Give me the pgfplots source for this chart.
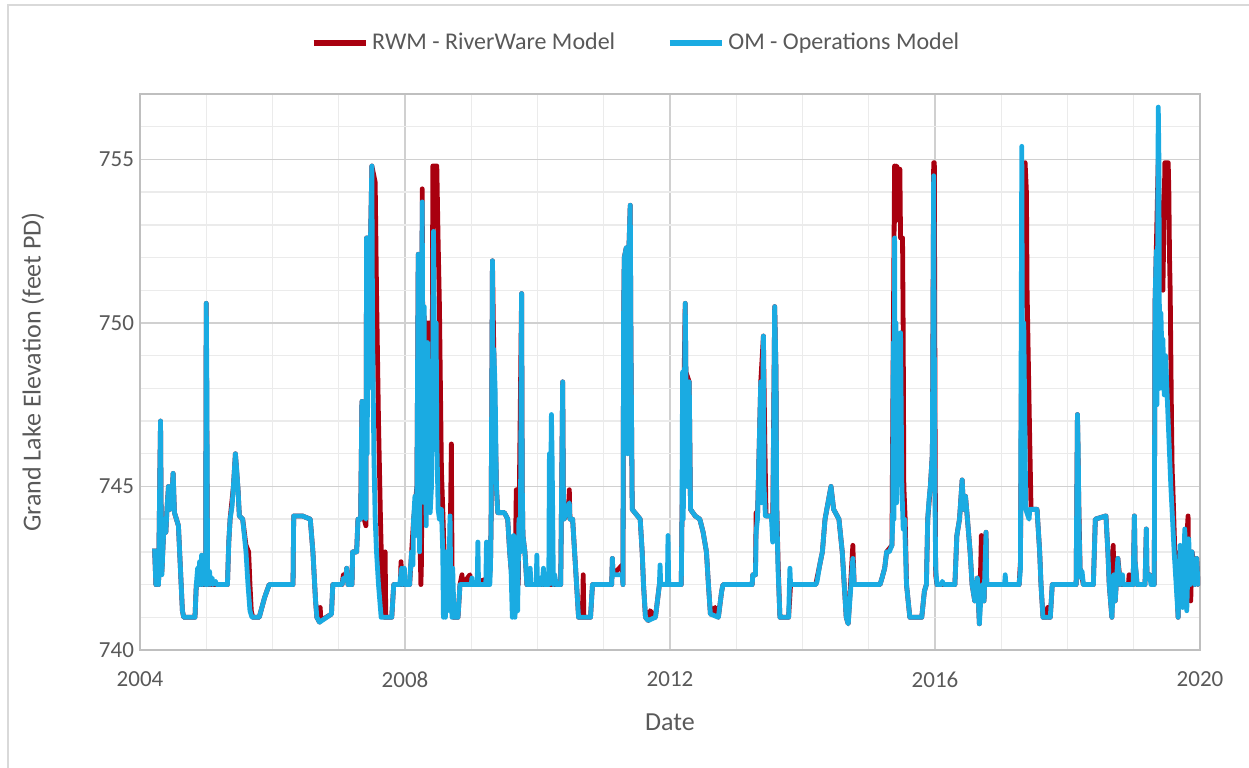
\documentclass[border=0pt]{standalone}
\usepackage{fontspec}
\setmainfont{Carlito}
\usepackage{pgfplots}
\pgfplotsset{compat=1.18}
\definecolor{rwm}{HTML}{A9000F}
\definecolor{om}{HTML}{1AABE2}
\definecolor{gridmaj}{HTML}{D0D0D0}
\definecolor{gridmin}{HTML}{EBEBEB}
\definecolor{axisgray}{HTML}{BFBFBF}
\definecolor{textgray}{HTML}{595959}
\definecolor{framegray}{HTML}{D9D9D9}
\begin{document}
\begin{tikzpicture}
\useasboundingbox (-70pt,-58.5pt) rectangle (554.5pt,325pt);
\draw[framegray, line width=1pt] (-66pt,-60pt) -- (-66pt,322.5pt) -- (556pt,322.5pt);
\begin{axis}[
  scale only axis, width=530pt, height=278pt,
  xmin=2004, xmax=2020, ymin=740, ymax=757,
  xtick={2004,2008,2012,2016,2020},
  minor xtick={2005,2006,2007,2009,2010,2011,2013,2014,2015,2017,2018,2019},
  ytick={740,745,750,755},
  minor ytick={741,742,743,744,746,747,748,749,751,752,753,754,756},
  grid=both,
  major grid style={draw=gridmaj, line width=0.7pt},
  minor grid style={draw=gridmin, line width=0.7pt},
  axis line style={draw=axisgray, line width=0.9pt},
  tick style={draw=none},
  /pgf/number format/assume math mode=true,
  ticklabel style={font=\fontsize{11.5}{13}\selectfont, text=textgray},
  xticklabel style={/pgf/number format/1000 sep={}, yshift=-7.5pt},
  yticklabel style={xshift=0.5pt},
  xlabel={Date}, ylabel={Grand Lake Elevation (feet PD)},
  label style={font=\fontsize{13}{15}\selectfont, text=textgray},
  xlabel style={at={(axis description cs:0.5,-0.1295)}, anchor=center},
  ylabel style={at={(axis description cs:-0.101,0.5)}, anchor=center},
  legend columns=2,
  legend style={at={(axis description cs:0.469,1)}, anchor=center, yshift=25.5pt,
    draw=none, fill=none, font=\fontsize{12}{14}\selectfont, text=textgray,
    /tikz/every even column/.append style={column sep=24pt}},
  legend image code/.code={\draw[#1, line width=2.6pt] (0pt,0pt) -- (26pt,0pt);},
  every axis plot/.append style={line width=2.4pt, line join=round, no markers},
]
\addplot[rwm] table[row sep=\\] {
x y\\
2004.22 743.1\\ 2004.24 742.0\\ 2004.26 742.6\\ 2004.28 742.0\\ 2004.30 745.5\\ 2004.31 747.0\\
2004.32 744.0\\ 2004.33 742.4\\ 2004.35 743.3\\ 2004.37 744.0\\ 2004.39 743.6\\ 2004.41 744.4\\
2004.43 745.0\\ 2004.45 744.3\\ 2004.48 744.6\\ 2004.50 745.4\\ 2004.52 744.2\\ 2004.55 744.0\\
2004.58 743.8\\ 2004.61 742.5\\ 2004.64 741.2\\ 2004.66 741.0\\ 2004.83 741.0\\ 2004.85 742.0\\
2004.99 742.0\\ 2005.00 750.6\\ 2005.02 742.0\\ 2005.32 742.0\\ 2005.34 743.3\\ 2005.36 744.0\\
2005.41 745.0\\ 2005.44 746.0\\ 2005.48 744.9\\ 2005.50 744.1\\ 2005.55 744.0\\ 2005.60 743.2\\
2005.64 743.0\\ 2005.66 742.0\\ 2005.68 741.2\\ 2005.70 741.0\\ 2005.80 741.0\\ 2005.88 741.6\\
2005.95 742.0\\ 2006.31 742.0\\ 2006.32 744.1\\ 2006.45 744.1\\ 2006.57 744.0\\ 2006.61 743.0\\
2006.65 741.5\\ 2006.67 741.0\\ 2006.71 740.85\\ 2006.72 741.3\\ 2006.73 740.9\\ 2006.89 741.1\\
2006.91 742.0\\ 2007.05 742.0\\ 2007.07 742.3\\ 2007.11 742.3\\ 2007.12 742.5\\ 2007.14 742.0\\
2007.20 742.0\\ 2007.21 743.0\\ 2007.27 743.0\\ 2007.29 744.0\\ 2007.33 744.0\\ 2007.35 747.6\\
2007.36 744.2\\ 2007.41 743.8\\ 2007.42 752.6\\ 2007.48 752.6\\ 2007.50 754.8\\ 2007.55 754.3\\
2007.57 751.0\\ 2007.60 747.0\\ 2007.63 744.0\\ 2007.66 741.5\\ 2007.69 741.0\\ 2007.70 743.0\\
2007.71 741.0\\ 2007.80 741.0\\ 2007.83 742.0\\ 2007.93 742.0\\ 2007.94 742.7\\ 2007.95 742.0\\
2008.07 742.0\\ 2008.10 743.0\\ 2008.13 744.0\\ 2008.18 745.0\\ 2008.20 752.1\\ 2008.22 744.0\\
2008.24 742.0\\ 2008.25 742.8\\ 2008.26 754.1\\ 2008.27 748.0\\ 2008.29 750.2\\ 2008.31 748.0\\
2008.32 750.0\\ 2008.38 750.0\\ 2008.39 746.5\\ 2008.41 748.0\\ 2008.42 754.8\\ 2008.48 754.8\\
2008.50 752.5\\ 2008.52 750.5\\ 2008.55 745.5\\ 2008.57 744.3\\ 2008.59 743.0\\ 2008.63 742.2\\
2008.68 743.0\\ 2008.70 746.3\\ 2008.71 742.5\\ 2008.73 741.0\\ 2008.80 741.0\\ 2008.83 742.0\\
2008.86 742.3\\ 2008.87 742.0\\ 2008.98 742.3\\ 2008.99 742.0\\ 2009.27 742.2\\ 2009.29 742.5\\
2009.30 744.0\\ 2009.32 751.9\\ 2009.34 749.2\\ 2009.38 745.0\\ 2009.40 744.2\\ 2009.50 744.2\\
2009.55 744.0\\ 2009.58 743.0\\ 2009.60 742.5\\ 2009.66 742.0\\ 2009.68 744.9\\ 2009.70 744.5\\
2009.71 742.0\\ 2009.76 750.9\\ 2009.77 745.0\\ 2009.78 743.5\\ 2009.81 743.0\\ 2009.84 742.0\\
2010.35 742.0\\ 2010.36 744.0\\ 2010.38 748.2\\ 2010.39 745.0\\ 2010.40 744.0\\ 2010.47 744.3\\
2010.48 744.9\\ 2010.49 744.0\\ 2010.53 744.0\\ 2010.56 743.0\\ 2010.59 742.0\\ 2010.62 741.0\\
2010.68 741.0\\ 2010.69 742.3\\ 2010.70 741.0\\ 2010.80 741.0\\ 2010.83 742.0\\ 2011.12 742.0\\
2011.13 742.8\\ 2011.14 742.3\\ 2011.28 742.6\\ 2011.29 742.0\\ 2011.30 750.3\\ 2011.31 752.0\\
2011.34 752.3\\ 2011.38 752.3\\ 2011.40 753.6\\ 2011.41 749.5\\ 2011.43 744.3\\ 2011.55 744.0\\
2011.58 743.0\\ 2011.60 742.0\\ 2011.63 741.0\\ 2011.67 740.9\\ 2011.70 741.2\\ 2011.78 741.0\\
2011.84 742.0\\ 2012.17 742.0\\ 2012.18 744.0\\ 2012.23 750.6\\ 2012.24 748.5\\ 2012.29 748.2\\
2012.31 744.3\\ 2012.38 744.1\\ 2012.45 744.0\\ 2012.50 743.6\\ 2012.55 743.0\\ 2012.58 742.0\\
2012.61 741.1\\ 2012.68 741.3\\ 2012.73 741.0\\ 2012.78 741.8\\ 2012.80 742.0\\ 2013.24 742.0\\
2013.25 742.3\\ 2013.29 742.3\\ 2013.30 744.2\\ 2013.32 744.0\\ 2013.37 748.2\\ 2013.41 749.6\\
2013.43 746.5\\ 2013.45 744.1\\ 2013.53 744.1\\ 2013.55 743.8\\ 2013.58 750.5\\ 2013.60 748.5\\
2013.61 744.5\\ 2013.63 742.8\\ 2013.65 741.5\\ 2013.66 741.0\\ 2013.79 741.0\\ 2013.82 742.0\\
2014.20 742.0\\ 2014.22 742.2\\ 2014.26 742.6\\ 2014.30 743.0\\ 2014.34 744.0\\ 2014.43 745.0\\
2014.47 744.3\\ 2014.55 744.0\\ 2014.60 743.0\\ 2014.63 742.0\\ 2014.66 741.0\\ 2014.69 740.8\\
2014.76 743.2\\ 2014.78 742.0\\ 2015.17 742.0\\ 2015.20 742.2\\ 2015.24 742.5\\ 2015.27 743.0\\
2015.35 743.2\\ 2015.37 749.4\\ 2015.39 754.8\\ 2015.40 753.1\\ 2015.42 754.8\\ 2015.44 754.7\\
2015.47 754.7\\ 2015.48 752.6\\ 2015.51 752.6\\ 2015.52 749.7\\ 2015.53 745.0\\ 2015.55 744.0\\
2015.57 742.0\\ 2015.62 741.0\\ 2015.80 741.0\\ 2015.84 741.8\\ 2015.87 742.0\\ 2015.89 744.0\\
2015.93 745.0\\ 2015.96 746.0\\ 2015.98 754.9\\ 2015.99 754.9\\ 2016.00 747.5\\ 2016.01 742.3\\
2016.03 742.0\\ 2016.30 742.0\\ 2016.33 743.5\\ 2016.37 744.0\\ 2016.41 745.2\\ 2016.43 744.3\\
2016.46 744.7\\ 2016.49 744.0\\ 2016.53 743.0\\ 2016.56 742.0\\ 2016.60 741.5\\ 2016.64 742.2\\
2016.67 740.8\\ 2016.70 743.5\\ 2016.72 742.0\\ 2016.74 741.5\\ 2016.77 743.6\\ 2016.78 742.0\\
2017.27 742.0\\ 2017.29 742.7\\ 2017.31 750.0\\ 2017.36 754.9\\ 2017.38 754.0\\ 2017.39 751.0\\
2017.43 746.4\\ 2017.45 744.3\\ 2017.54 744.3\\ 2017.58 743.0\\ 2017.60 742.0\\ 2017.63 741.0\\
2017.69 741.0\\ 2017.70 741.3\\ 2017.71 741.0\\ 2017.74 741.0\\ 2017.77 742.0\\ 2018.13 742.0\\
2018.15 747.2\\ 2018.17 744.5\\ 2018.19 742.5\\ 2018.24 742.0\\ 2018.39 742.0\\ 2018.42 744.0\\
2018.58 744.1\\ 2018.61 743.0\\ 2018.63 742.0\\ 2018.67 741.0\\ 2018.69 743.2\\ 2018.70 742.3\\
2018.72 741.5\\ 2018.76 742.8\\ 2018.80 742.0\\ 2018.92 742.0\\ 2018.93 742.3\\ 2018.94 742.0\\
2018.99 742.0\\ 2019.01 744.1\\ 2019.02 742.7\\ 2019.05 742.0\\ 2019.17 742.0\\ 2019.19 743.7\\
2019.20 742.2\\ 2019.24 742.3\\ 2019.31 742.0\\ 2019.32 750.5\\ 2019.34 752.2\\ 2019.37 755.0\\
2019.40 752.0\\ 2019.44 751.0\\ 2019.47 754.9\\ 2019.52 754.9\\ 2019.53 754.0\\ 2019.54 752.0\\
2019.55 751.0\\ 2019.57 747.0\\ 2019.58 745.5\\ 2019.59 745.0\\ 2019.62 743.0\\ 2019.65 742.0\\
2019.67 741.0\\ 2019.69 743.0\\ 2019.70 742.0\\ 2019.76 742.0\\ 2019.82 744.1\\ 2019.83 742.5\\
2019.86 741.5\\ 2019.88 743.0\\ 2019.90 742.7\\ 2019.92 742.0\\ 2019.95 742.8\\ 2019.97 742.0\\
2020.00 742.2\\
};
\addlegendentry{RWM - RiverWare Model}
\addplot[om] table[row sep=\\] {
x y\\
2004.22 743.1\\ 2004.24 742.0\\ 2004.26 742.6\\ 2004.28 742.0\\ 2004.30 745.5\\ 2004.31 747.0\\
2004.32 744.0\\ 2004.33 742.3\\ 2004.35 743.3\\ 2004.37 744.0\\ 2004.39 743.6\\ 2004.41 744.4\\
2004.43 745.0\\ 2004.45 744.3\\ 2004.48 744.6\\ 2004.50 745.4\\ 2004.52 744.2\\ 2004.55 744.0\\
2004.58 743.8\\ 2004.61 742.5\\ 2004.64 741.2\\ 2004.66 741.0\\ 2004.83 741.0\\ 2004.85 742.0\\
2004.87 742.5\\ 2004.88 742.0\\ 2004.90 742.7\\ 2004.91 742.0\\ 2004.93 742.9\\ 2004.94 742.0\\
2004.97 742.2\\ 2004.99 742.0\\ 2005.00 750.6\\ 2005.01 748.0\\ 2005.02 742.0\\ 2005.05 742.4\\
2005.06 742.0\\ 2005.09 742.2\\ 2005.10 742.0\\ 2005.14 742.1\\ 2005.15 742.0\\ 2005.32 742.0\\
2005.34 743.3\\ 2005.36 744.0\\ 2005.39 744.4\\ 2005.41 745.0\\ 2005.44 746.0\\ 2005.46 745.5\\
2005.48 744.9\\ 2005.50 744.1\\ 2005.55 744.0\\ 2005.60 743.0\\ 2005.63 742.0\\ 2005.66 741.2\\
2005.69 741.0\\ 2005.80 741.0\\ 2005.88 741.6\\ 2005.95 742.0\\ 2006.31 742.0\\ 2006.32 744.1\\
2006.45 744.1\\ 2006.57 744.0\\ 2006.61 743.0\\ 2006.65 741.5\\ 2006.67 741.0\\ 2006.71 740.85\\
2006.89 741.1\\ 2006.91 742.0\\ 2007.05 742.0\\ 2007.07 742.2\\ 2007.11 742.2\\ 2007.12 742.5\\
2007.14 742.0\\ 2007.20 742.0\\ 2007.21 743.0\\ 2007.27 743.0\\ 2007.29 744.0\\ 2007.33 744.0\\
2007.35 747.6\\ 2007.36 744.2\\ 2007.41 744.0\\ 2007.42 752.6\\ 2007.43 746.0\\ 2007.44 752.6\\
2007.45 748.0\\ 2007.46 752.6\\ 2007.48 752.6\\ 2007.50 754.8\\ 2007.51 750.0\\ 2007.53 746.0\\
2007.55 744.0\\ 2007.57 743.0\\ 2007.60 742.0\\ 2007.64 741.0\\ 2007.80 741.0\\ 2007.83 742.0\\
2007.92 742.0\\ 2007.95 742.5\\ 2007.96 742.0\\ 2007.99 742.5\\ 2008.00 742.0\\ 2008.07 742.0\\
2008.08 742.4\\ 2008.10 743.0\\ 2008.12 742.6\\ 2008.13 744.0\\ 2008.15 744.7\\ 2008.16 743.5\\
2008.18 745.0\\ 2008.20 752.1\\ 2008.21 744.5\\ 2008.22 743.0\\ 2008.23 749.0\\ 2008.24 744.5\\
2008.25 746.0\\ 2008.26 753.7\\ 2008.27 747.0\\ 2008.28 744.8\\ 2008.29 750.5\\ 2008.30 744.5\\
2008.31 748.0\\ 2008.32 743.8\\ 2008.34 749.4\\ 2008.35 745.0\\ 2008.36 747.5\\ 2008.38 744.2\\
2008.40 745.0\\ 2008.42 749.0\\ 2008.43 752.8\\ 2008.45 748.5\\ 2008.47 750.0\\ 2008.48 746.5\\
2008.50 744.3\\ 2008.52 744.0\\ 2008.55 744.3\\ 2008.57 743.0\\ 2008.58 741.0\\ 2008.59 742.5\\
2008.61 741.0\\ 2008.62 743.0\\ 2008.64 741.2\\ 2008.66 742.0\\ 2008.68 744.1\\ 2008.69 742.0\\
2008.71 741.0\\ 2008.72 742.5\\ 2008.74 741.0\\ 2008.80 741.0\\ 2008.83 742.0\\ 2009.00 742.0\\
2009.01 742.2\\ 2009.02 742.0\\ 2009.09 742.0\\ 2009.10 743.3\\ 2009.11 742.0\\ 2009.22 742.0\\
2009.23 743.3\\ 2009.24 742.0\\ 2009.28 742.0\\ 2009.29 742.5\\ 2009.30 744.0\\ 2009.32 751.9\\
2009.33 746.0\\ 2009.34 749.2\\ 2009.36 748.0\\ 2009.38 745.0\\ 2009.40 744.2\\ 2009.50 744.2\\
2009.55 744.0\\ 2009.58 743.0\\ 2009.60 742.5\\ 2009.62 741.0\\ 2009.64 743.5\\ 2009.66 741.0\\
2009.68 742.0\\ 2009.70 741.2\\ 2009.72 744.0\\ 2009.74 743.0\\ 2009.76 750.9\\ 2009.77 745.0\\
2009.78 743.5\\ 2009.81 743.0\\ 2009.84 742.0\\ 2009.88 742.0\\ 2009.89 742.5\\ 2009.90 742.0\\
2009.98 742.0\\ 2009.99 742.9\\ 2010.00 742.0\\ 2010.04 742.0\\ 2010.05 742.2\\ 2010.07 742.0\\
2010.09 742.5\\ 2010.10 742.0\\ 2010.17 742.0\\ 2010.18 746.0\\ 2010.19 743.0\\ 2010.21 747.2\\
2010.22 746.0\\ 2010.24 742.0\\ 2010.26 742.3\\ 2010.28 742.0\\ 2010.35 742.0\\ 2010.36 744.0\\
2010.38 748.2\\ 2010.39 745.0\\ 2010.40 744.0\\ 2010.48 744.5\\ 2010.49 744.0\\ 2010.53 744.0\\
2010.56 743.0\\ 2010.59 742.0\\ 2010.62 741.0\\ 2010.80 741.0\\ 2010.83 742.0\\ 2011.12 742.0\\
2011.13 742.8\\ 2011.14 742.3\\ 2011.28 742.3\\ 2011.29 742.0\\ 2011.30 750.3\\ 2011.31 752.0\\
2011.34 752.3\\ 2011.36 746.0\\ 2011.38 752.3\\ 2011.40 753.6\\ 2011.41 749.5\\ 2011.43 744.3\\
2011.55 744.0\\ 2011.58 743.0\\ 2011.60 742.0\\ 2011.63 741.0\\ 2011.67 740.9\\ 2011.78 741.0\\
2011.84 742.0\\ 2011.85 742.6\\ 2011.86 742.0\\ 2011.96 742.0\\ 2011.97 743.5\\ 2011.98 742.0\\
2012.17 742.0\\ 2012.18 744.0\\ 2012.19 748.5\\ 2012.20 744.0\\ 2012.23 750.6\\ 2012.24 748.5\\
2012.26 745.0\\ 2012.29 748.2\\ 2012.31 744.3\\ 2012.38 744.1\\ 2012.45 744.0\\ 2012.50 743.6\\
2012.55 743.0\\ 2012.58 742.0\\ 2012.61 741.1\\ 2012.73 741.0\\ 2012.78 741.8\\ 2012.80 742.0\\
2013.24 742.0\\ 2013.25 742.3\\ 2013.29 742.3\\ 2013.30 743.6\\ 2013.32 744.0\\ 2013.37 748.2\\
2013.38 744.5\\ 2013.41 749.6\\ 2013.42 745.0\\ 2013.44 744.1\\ 2013.53 744.1\\ 2013.55 743.3\\
2013.58 750.5\\ 2013.60 748.5\\ 2013.61 744.5\\ 2013.63 742.5\\ 2013.66 741.0\\ 2013.79 741.0\\
2013.81 742.5\\ 2013.82 742.0\\ 2014.20 742.0\\ 2014.22 742.1\\ 2014.26 742.6\\ 2014.30 743.0\\
2014.34 744.0\\ 2014.43 745.0\\ 2014.47 744.3\\ 2014.55 744.0\\ 2014.60 743.0\\ 2014.63 742.0\\
2014.66 741.0\\ 2014.69 740.8\\ 2014.76 742.8\\ 2014.78 742.0\\ 2015.17 742.0\\ 2015.20 742.2\\
2015.24 742.5\\ 2015.27 743.0\\ 2015.31 743.0\\ 2015.35 743.2\\ 2015.36 743.8\\ 2015.37 749.4\\
2015.38 744.0\\ 2015.39 752.6\\ 2015.40 745.0\\ 2015.41 750.0\\ 2015.42 744.5\\ 2015.44 748.0\\
2015.46 746.0\\ 2015.48 749.7\\ 2015.50 745.0\\ 2015.52 743.7\\ 2015.54 744.0\\ 2015.57 742.0\\
2015.62 741.0\\ 2015.80 741.0\\ 2015.84 741.8\\ 2015.87 742.0\\ 2015.89 744.0\\ 2015.91 744.6\\
2015.93 745.0\\ 2015.96 746.0\\ 2015.98 754.5\\ 2015.99 749.0\\ 2016.00 744.5\\ 2016.01 742.5\\
2016.03 742.0\\ 2016.10 742.0\\ 2016.11 742.1\\ 2016.13 742.0\\ 2016.30 742.0\\ 2016.33 743.5\\
2016.37 744.0\\ 2016.41 745.2\\ 2016.43 744.3\\ 2016.46 744.7\\ 2016.49 744.0\\ 2016.53 743.0\\
2016.56 742.0\\ 2016.60 741.5\\ 2016.64 742.2\\ 2016.67 740.8\\ 2016.69 741.5\\ 2016.72 742.0\\
2016.74 741.5\\ 2016.77 743.6\\ 2016.78 742.0\\ 2017.05 742.0\\ 2017.06 742.3\\ 2017.07 742.0\\
2017.27 742.0\\ 2017.29 742.5\\ 2017.31 755.4\\ 2017.32 749.0\\ 2017.34 750.0\\ 2017.35 748.0\\
2017.37 744.3\\ 2017.42 744.0\\ 2017.43 744.3\\ 2017.54 744.3\\ 2017.58 743.0\\ 2017.60 742.0\\
2017.63 741.0\\ 2017.74 741.0\\ 2017.77 742.0\\ 2018.13 742.0\\ 2018.15 747.2\\ 2018.16 746.3\\
2018.17 744.5\\ 2018.18 743.2\\ 2018.19 742.5\\ 2018.21 742.2\\ 2018.22 742.4\\ 2018.24 742.0\\
2018.39 742.0\\ 2018.42 744.0\\ 2018.58 744.1\\ 2018.61 743.0\\ 2018.63 742.0\\ 2018.67 741.0\\
2018.70 742.3\\ 2018.72 741.5\\ 2018.76 742.8\\ 2018.77 742.5\\ 2018.80 742.0\\ 2018.83 742.3\\
2018.84 742.0\\ 2018.99 742.0\\ 2019.01 744.1\\ 2019.02 742.7\\ 2019.04 742.3\\ 2019.05 742.0\\
2019.17 742.0\\ 2019.19 743.7\\ 2019.20 742.2\\ 2019.24 742.3\\ 2019.26 742.0\\ 2019.31 742.0\\
2019.32 750.5\\ 2019.34 752.2\\ 2019.35 747.5\\ 2019.37 756.6\\ 2019.38 755.0\\ 2019.39 748.0\\
2019.41 750.3\\ 2019.43 748.6\\ 2019.44 749.5\\ 2019.46 747.8\\ 2019.48 749.0\\ 2019.52 747.0\\
2019.56 745.0\\ 2019.61 743.0\\ 2019.64 742.0\\ 2019.67 741.0\\ 2019.70 743.2\\ 2019.72 742.0\\
2019.74 741.3\\ 2019.77 743.7\\ 2019.79 742.0\\ 2019.80 741.2\\ 2019.83 743.4\\ 2019.85 742.0\\
2019.88 743.0\\ 2019.90 742.3\\ 2019.92 742.0\\ 2019.95 742.8\\ 2019.97 742.0\\ 2020.00 742.2\\
};
\addlegendentry{OM - Operations Model}
\end{axis}
\end{tikzpicture}
\end{document}
